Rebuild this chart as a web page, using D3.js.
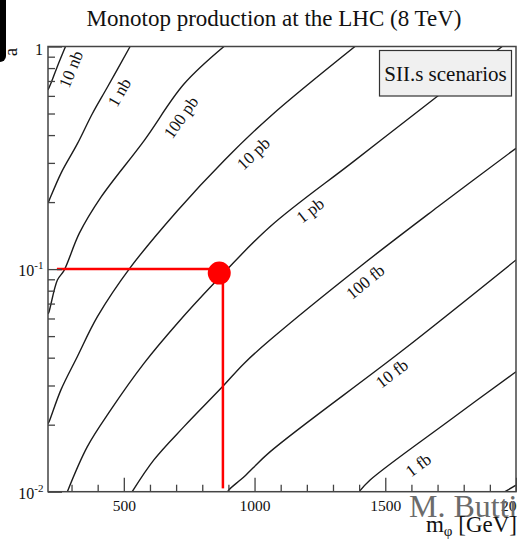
<!DOCTYPE html>
<html>
<head>
<meta charset="utf-8">
<script src="https://cdn.jsdelivr.net/npm/d3@7"></script>
<style>
  body { margin: 0; background: #fff; }
  svg { display: block; font-family: "Liberation Serif", "DejaVu Serif", serif; }
</style>
</head>
<body>
<div id="chart"></div>
<script>
(function monotop_contours(){

// axis ranges
const massDomain = [210, 2000];   // m_phi [GeV]
const aDomain = [0.01, 1];        // coupling a (log)

// x ticks
const xMajorTicks = [500, 1000, 1500, 2000];
const xMinorTicks = [300, 400, 600, 700, 800, 900, 1100, 1200, 1300, 1400, 1600, 1700, 1800, 1900];
const xTickLabels = ["500", "1000", "1500", "2000"];

// y ticks (log decades)
const yMajorTicks = [0.01, 0.1, 1];
const yTickExponents = [-2, -1, 0];

// iso cross-section contours, [m_phi, a]
const c10nb  = [[277, 1], [248, 0.826], [220, 0.678], [210, 0.638]];
const c1nb   = [[524, 1], [437, 0.656], [380, 0.5], [322, 0.365], [260, 0.27], [214, 0.203], [210, 0.198]];
const c100pb = [[883, 1], [730, 0.678], [577, 0.377], [412, 0.210], [330, 0.145], [271, 0.0984], [246, 0.0893], [214, 0.0644], [210, 0.0629]];
const c10pb  = [[1384, 1], [1059, 0.484], [883, 0.307], [705, 0.183], [526, 0.102], [399, 0.0611], [322, 0.0404], [259, 0.0286], [214, 0.0206], [210, 0.0202]];
const c1pb   = [[1947, 1], [1697, 0.595], [1378, 0.304], [1059, 0.155], [845, 0.0863], [705, 0.0571], [577, 0.0377], [450, 0.0233], [360, 0.0159], [284, 0.01]];
const c100fb = [[2000, 0.349], [1700, 0.19], [1403, 0.1025], [1059, 0.048], [960, 0.0377], [877, 0.0296], [730, 0.0196], [615, 0.0139], [532, 0.01]];
const c10fb  = [[2000, 0.1099], [1568, 0.0433], [1059, 0.0151], [960, 0.01168], [902, 0.0102], [898, 0.01]];
const c1fb   = [[2000, 0.0346], [1748, 0.021], [1442, 0.01129], [1400, 0.01]];
const c01fb  = [[2000, 0.0107], [1958, 0.01]];

const contours = [c10nb, c1nb, c100pb, c10pb, c1pb, c100fb, c10fb, c1fb, c01fb];

// contour labels
const labelNames = ["10 nb", "1 nb", "100 pb", "10 pb", "1 pb", "100 fb", "10 fb", "1 fb"];
const labelMass  = [297, 482, 718, 995, 1212, 1423, 1525, 1626];
const labelA     = [0.792, 0.623, 0.481, 0.331, 0.184, 0.0878, 0.034, 0.0132];

// benchmark point and guide lines
const benchPoint = [865, 0.096];
const benchHLine = [[244, 0.1], [865, 0.1]];
const benchVLine = [[879, 0.096], [879, 0.01035]];

const width = 517, height = 539;
const left = 48, right = 516, top = 46.5, bottom = 491.7;

const x = d3.scaleLinear().domain(massDomain).range([left, right]);
const y = d3.scaleLog().domain(aDomain).range([bottom, top]);

const svg = d3.select("#chart").append("svg")
    .attr("width", width)
    .attr("height", height)
    .attr("viewBox", [0, 0, width, height]);

svg.append("rect").attr("width", width).attr("height", height).attr("fill", "#fff");

svg.append("clipPath").attr("id", "frame")
  .append("rect")
    .attr("x", left).attr("y", top)
    .attr("width", right - left).attr("height", bottom - top);

// title
svg.append("text")
    .attr("x", 274)
    .attr("y", 26)
    .attr("text-anchor", "middle")
    .attr("font-size", 23)
    .attr("fill", "#111")
    .text("Monotop production at the LHC (8 TeV)");

// contours
const line = d3.line()
    .x(d => x(d[0]))
    .y(d => y(d[1]))
    .curve(d3.curveCatmullRom.alpha(0.5));

svg.append("g")
    .attr("clip-path", "url(#frame)")
    .selectAll("path")
    .data(contours)
    .join("path")
    .attr("d", line)
    .attr("fill", "none")
    .attr("stroke", "#1c1c1c")
    .attr("stroke-width", 1.4);

// labels, rotated along the nearest piece of their curve
const labels = labelNames.map((name, i) => {
    const px = x(labelMass[i]), py = y(labelA[i]);
    const pts = contours[i].map(d => [x(d[0]), y(d[1])]);
    let best = Infinity, angle = -45;
    for (let k = 0; k < pts.length - 1; k++) {
        const mx = (pts[k][0] + pts[k + 1][0]) / 2, my = (pts[k][1] + pts[k + 1][1]) / 2;
        const dist = (mx - px) ** 2 + (my - py) ** 2;
        if (dist < best) {
            best = dist;
            angle = Math.atan2(pts[k][1] - pts[k + 1][1], pts[k][0] - pts[k + 1][0]) * 180 / Math.PI;
        }
    }
    return {name, px, py, angle};
});

svg.append("g")
    .selectAll("text")
    .data(labels)
    .join("text")
    .attr("transform", d => `translate(${d.px},${d.py}) rotate(${d.angle})`)
    .attr("text-anchor", "middle")
    .attr("dy", "0.35em")
    .attr("font-size", 17)
    .attr("fill", "#111")
    .text(d => d.name);

// benchmark lines and point
const red = "#ff0000";
svg.append("path")
    .attr("d", d3.line().x(d => x(d[0])).y(d => y(d[1]))(benchHLine))
    .attr("stroke", red).attr("stroke-width", 2.5).attr("fill", "none");
svg.append("path")
    .attr("d", d3.line().x(d => x(d[0])).y(d => y(d[1]))(benchVLine))
    .attr("stroke", red).attr("stroke-width", 2.5).attr("fill", "none");
svg.append("circle")
    .attr("cx", x(benchPoint[0]))
    .attr("cy", y(benchPoint[1]))
    .attr("r", 11.5)
    .attr("fill", red);

// legend box
svg.append("rect")
    .attr("x", 379.5).attr("y", 50.5)
    .attr("width", 132).attr("height", 45.5)
    .attr("fill", "#f0f0f0")
    .attr("stroke", "#333")
    .attr("stroke-width", 1.2);
svg.append("text")
    .attr("x", 445.5).attr("y", 81)
    .attr("text-anchor", "middle")
    .attr("font-size", 21)
    .attr("fill", "#111")
    .text("SII.s scenarios");

// axes (ticks point inward)
const axisColor = "#444";
const styleAxis = g => {
    g.select(".domain").remove();
    g.selectAll(".tick line").attr("stroke", axisColor).attr("stroke-width", 1.3);
};

svg.append("g")
    .attr("transform", `translate(0,${bottom})`)
    .call(d3.axisBottom(x).tickValues(xMinorTicks).tickSize(-7).tickFormat(""))
    .call(styleAxis);

svg.append("g")
    .attr("transform", `translate(0,${bottom})`)
    .call(d3.axisBottom(x).tickValues(xMajorTicks).tickSize(-14).tickPadding(8)
        .tickFormat((d, i) => xTickLabels[i]))
    .call(styleAxis)
    .call(g => g.selectAll(".tick text")
        .attr("font-family", "Liberation Serif, serif")
        .attr("font-size", 15.5)
        .attr("fill", "#111"));

const yMinor = y.ticks().filter(d => !yMajorTicks.some(v => Math.abs(v - d) < 1e-9));
svg.append("g")
    .attr("transform", `translate(${left},0)`)
    .call(d3.axisLeft(y).tickValues(yMinor).tickSize(-7).tickFormat(""))
    .call(styleAxis);

svg.append("g")
    .attr("transform", `translate(${left},0)`)
    .call(d3.axisLeft(y).tickValues(yMajorTicks).tickSize(-14).tickFormat(""))
    .call(styleAxis);

// y tick labels: 1, 10^-1, 10^-2
const yLab = svg.append("g")
    .selectAll("text")
    .data(yMajorTicks)
    .join("text")
    .attr("x", 43.5)
    .attr("y", d => y(d) + 7.2)
    .attr("text-anchor", "end")
    .attr("font-size", 16)
    .attr("fill", "#111");

yLab.each(function(d, i) {
    const t = d3.select(this);
    const e = yTickExponents[i];
    if (e === 0) { t.text("1").attr("y", y(d) + 8.5).attr("x", 43); return; }
    t.append("tspan").text("10");
    t.append("tspan").attr("font-size", 11).attr("dy", -7).text(String(e));
});

// frame
svg.append("rect")
    .attr("x", left).attr("y", top)
    .attr("width", right - left).attr("height", bottom - top)
    .attr("fill", "none")
    .attr("stroke", axisColor)
    .attr("stroke-width", 1.5);

// watermark
svg.append("text")
    .attr("x", 409)
    .attr("y", 516.5)
    .attr("font-size", 32)
    .attr("fill", "#6b6b6b")
    .text("M. Butti");

// x axis title
const xt = svg.append("text")
    .attr("x", 517)
    .attr("y", 531.5)
    .attr("text-anchor", "end")
    .attr("font-size", 23)
    .attr("fill", "#111");
xt.append("tspan").text("m");
xt.append("tspan").attr("font-size", 15).attr("dy", 4).text("φ");
xt.append("tspan").attr("dy", -4).text(" [GeV]");

// y axis title, partly under the dark tab at the corner
svg.append("text")
    .attr("transform", "translate(17,52) rotate(-90)")
    .attr("text-anchor", "middle")
    .attr("font-size", 19)
    .attr("fill", "#111")
    .text("a");

svg.append("rect")
    .attr("x", -12).attr("y", -12)
    .attr("width", 18).attr("height", 74)
    .attr("rx", 6)
    .attr("fill", "#000");

})();
</script>
</body>
</html>
